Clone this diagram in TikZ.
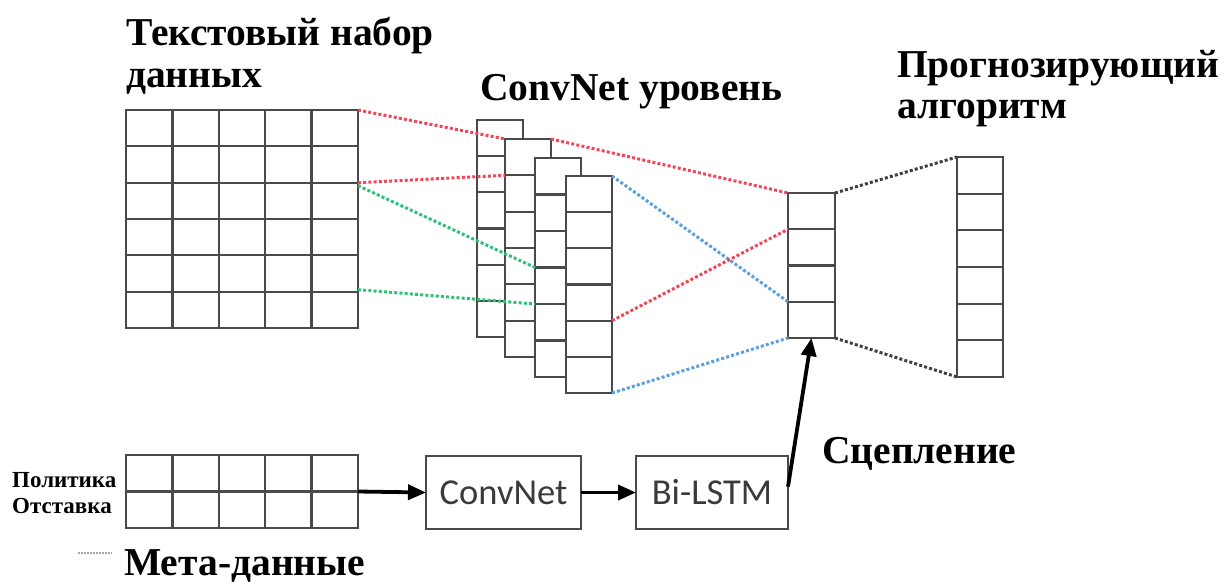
\documentclass[tikz,border=0pt]{standalone}
\usepackage{fontspec}
\setmainfont{Liberation Serif}
\newfontfamily\boxfont{Carlito}
\usetikzlibrary{calc,arrows.meta}

\definecolor{gridgray}{HTML}{4A4A4A}
\definecolor{dotred}{HTML}{F04858}
\definecolor{dotgreen}{HTML}{30C078}
\definecolor{dotblue}{HTML}{5AA0DC}
\definecolor{dotblack}{HTML}{404040}
\definecolor{boxtext}{HTML}{3A3A3A}

\tikzset{
  block/.style={draw=gridgray, line width=2.3pt, fill=white, inner sep=0pt,
                outer sep=0pt, anchor=north west},
  cellline/.style={draw=gridgray, line width=2.3pt},
  link/.style={line width=3pt, dash pattern=on 3pt off 2.2pt},
  title/.style={font=\fontsize{39.5}{44}\selectfont\bfseries, anchor=base west, inner sep=0pt},
  side/.style={font=\fontsize{23}{26}\selectfont\bfseries, anchor=base west, inner sep=0pt},
  procbox/.style={draw=gridgray, line width=2.3pt, inner sep=0pt, outer sep=0pt,
                  anchor=north west, minimum height=73pt,
                  font=\boxfont\fontsize{36.5}{40}\selectfont, text=boxtext},
  flow/.style={line width=3.8pt, -{Triangle[length=18pt,width=15pt]}},
}

% inner cell lines of a block node: name, columns, rows
\newcommand\cellgrid[3]{%
  \ifnum#2>1
    \foreach \i in {2,...,#2}
      \draw[cellline] ($(#1.north west)!{(\i-1)/#2}!(#1.north east)$)
                   -- ($(#1.south west)!{(\i-1)/#2}!(#1.south east)$);
  \fi
  \ifnum#3>1
    \foreach \j in {2,...,#3}
      \draw[cellline] ($(#1.north west)!{(\j-1)/#3}!(#1.south west)$)
                   -- ($(#1.north east)!{(\j-1)/#3}!(#1.south east)$);
  \fi
}

\begin{document}
\begin{tikzpicture}[x=1pt,y=-1pt]
  \useasboundingbox (0,0) rectangle (1226,584);

  % text data matrix
  \node[block, minimum width=232pt, minimum height=218pt] (txt) at (126,110) {};
  \cellgrid{txt}{5}{6}

  % stacked convolution feature maps
  \node[block, minimum width=46pt, minimum height=217pt] (L1) at (477,120) {};
  \cellgrid{L1}{1}{6}
  \node[block, minimum width=46pt, minimum height=218pt] (L2) at (505,139) {};
  \cellgrid{L2}{1}{6}
  \node[block, minimum width=46pt, minimum height=219pt] (L3) at (535,158) {};
  \cellgrid{L3}{1}{6}
  \node[block, minimum width=46pt, minimum height=217pt] (L4) at (566,176) {};
  \cellgrid{L4}{1}{6}

  % concatenated vector and output vector
  \node[block, minimum width=47pt, minimum height=145pt] (cat) at (788,193) {};
  \cellgrid{cat}{1}{4}
  \node[block, minimum width=46pt, minimum height=220pt] (out) at (957,157) {};
  \cellgrid{out}{1}{6}

  % metadata matrix and processing boxes
  \node[block, minimum width=232pt, minimum height=73pt] (meta) at (126,455) {};
  \cellgrid{meta}{5}{2}
  \node[procbox, minimum width=155pt] (conv) at (426,456) {ConvNet};
  \node[procbox, minimum width=152pt] (lstm) at (636,456) {Bi-LSTM};

  % attachment points on the blocks
  \coordinate (t2) at ($(txt.north east)!2/6!(txt.south east)$);
  \coordinate (t5) at ($(txt.north east)!5/6!(txt.south east)$);
  \coordinate (l2a) at ($(L2.north west)!1/6!(L2.south west)$);
  \coordinate (l3c) at ($(L3.north west)!3/6!(L3.south west)$);
  \coordinate (l3d) at ($(L3.north west)!4/6!(L3.south west)$);
  \coordinate (l4d) at ($(L4.north east)!4/6!(L4.south east)$);
  \coordinate (c1) at ($(cat.north west)!1/4!(cat.south west)$);
  \coordinate (c3) at ($(cat.north west)!3/4!(cat.south west)$);
  \coordinate (lstmout) at ($(lstm.north east)!0.42!(lstm.south east)$);

  % dotted connections
  \draw[link, dotred] (txt.north east) -- (L2.north west);
  \draw[link, dotred] (L2.north east) -- (cat.north west);
  \draw[link, dotred] (t2) -- (l2a);
  \draw[link, dotgreen] ([yshift=-3pt]t2) -- (l3c);
  \draw[link, dotgreen] ([yshift=2pt]t5) -- (l3d);
  \draw[link, dotblue] (L4.north east) -- (c3);
  \draw[link, dotred] (l4d) -- (c1);
  \draw[link, dotblue] (L4.south east) -- (cat.south west);
  \draw[link, dotblack] (cat.north east) -- (out.north west);
  \draw[link, dotblack] (cat.south east) -- (out.south west);

  % metadata flow
  \draw[flow] (meta.east) -- (conv.west);
  \draw[flow] (conv.east) -- (lstm.west);
  \draw[flow] (lstmout) -- (cat.south);

  % labels
  \node[title] (h1) at (126,45) {Текстовый набор};
  \node[title] (h1b) at (126,87) {данных};
  \node[title] (h2) at (480,100) {ConvNet уровень};
  \node[title] (h3) at (897,77) {Прогнозирующий};
  \node[title] (h3b) at (897,118) {алгоритм};
  \node[title] (h4) at (822,463) {Сцепление};
  \node[title] (h5) at (124,575) {Мета-данные};
  \node[side] (s1) at (12,487) {Политика};
  \node[side] (s2) at (12,513) {Отставка};
  \coordinate (mk1) at (78,553);
  \coordinate (mk2) at (112,553);
  \draw[gray!70, line width=2pt, dash pattern=on 2pt off 1pt] (mk1) -- (mk2);
\end{tikzpicture}
\end{document}
